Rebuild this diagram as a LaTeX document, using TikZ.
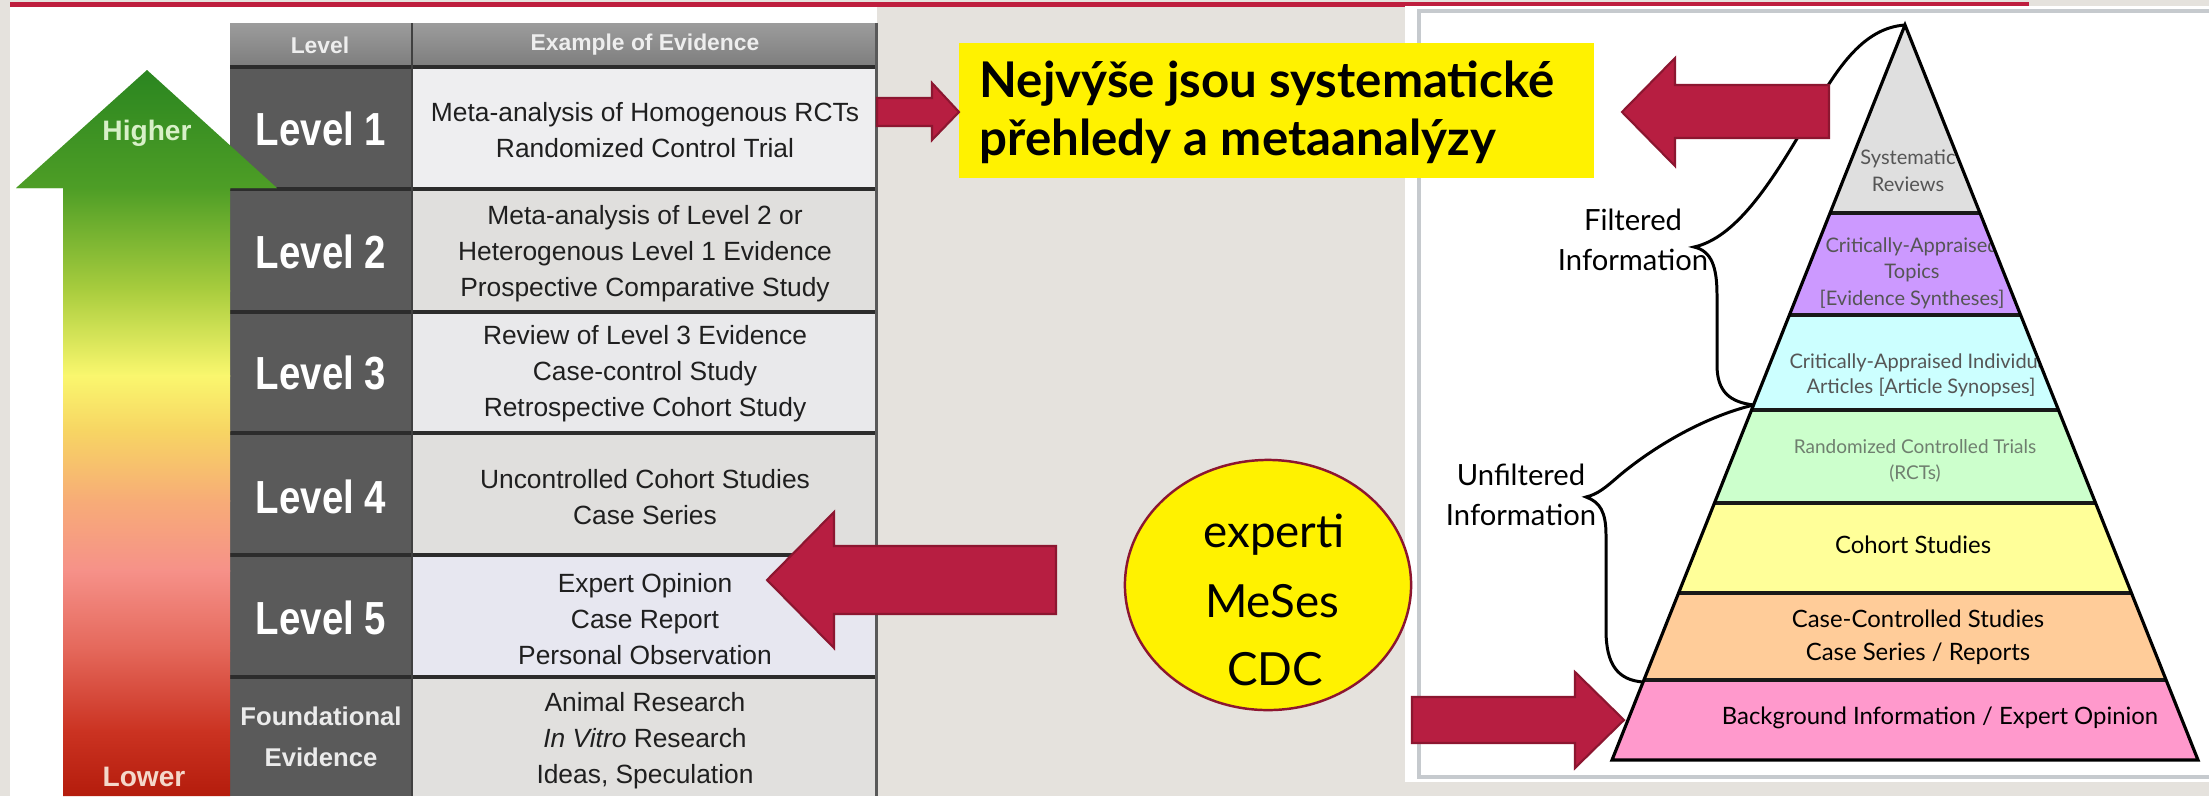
\documentclass[tikz,border=0pt]{standalone}
\usepackage{fontspec}
\setmainfont{Liberation Sans}
\newfontfamily\lato{Lato}
\usetikzlibrary{shapes.geometric}

\definecolor{bgbeige}{HTML}{E5E2DD}
\definecolor{redline}{HTML}{BE1E3E}
\definecolor{crim}{HTML}{B71E41}
\definecolor{crimdark}{HTML}{8C1630}
\definecolor{lvlgrey}{HTML}{5A5A5A}
\definecolor{sepdark}{HTML}{2C2C2C}
\definecolor{hdtop}{HTML}{9C9C9C}
\definecolor{hdbot}{HTML}{7D7D7D}
\definecolor{hdtextc}{HTML}{EEEEEE}
\definecolor{cellA}{HTML}{EEEEF0}
\definecolor{cellB}{HTML}{E0DFDD}
\definecolor{panelborder}{HTML}{C6CACE}
\definecolor{pgrey}{HTML}{DFDFDF}
\definecolor{ppurple}{HTML}{CC99FF}
\definecolor{pcyan}{HTML}{CCFFFF}
\definecolor{pgreen}{HTML}{CCFFCC}
\definecolor{pyellow}{HTML}{FFFF99}
\definecolor{porange}{HTML}{FFCC99}
\definecolor{ppink}{HTML}{FF99CC}
\definecolor{ptextgrey}{HTML}{555555}
\definecolor{prctgrey}{HTML}{6F7F6F}
\definecolor{hightext}{HTML}{D8F0C8}
\definecolor{lowtext}{HTML}{F4D8CA}
\definecolor{gtip}{HTML}{2A8520}
\definecolor{ga}{HTML}{4E9E26}
\definecolor{gb}{HTML}{A9CD3E}
\definecolor{gc}{HTML}{FAF76E}
\definecolor{gd}{HTML}{F7D563}
\definecolor{ge}{HTML}{F7AC77}
\definecolor{gf}{HTML}{F69189}
\definecolor{gg}{HTML}{E4675A}
\definecolor{gh}{HTML}{CB3322}
\definecolor{gi}{HTML}{B41C0C}

\begin{document}
\begin{tikzpicture}[x=0.01cm,y=-0.01cm,
  evtext/.style={align=center,font=\fontsize{7.5}{10.2}\selectfont,text=black!88,inner sep=0pt},
  lvltext/.style={align=center,font=\fontsize{12}{14}\selectfont\bfseries,text=white,inner sep=0pt},
  fndtext/.style={align=center,font=\fontsize{7.3}{11.7}\selectfont\bfseries,text=white!92!black,inner sep=0pt},
  hdtext/.style={font=\fontsize{6.5}{8}\selectfont\bfseries,text=hdtextc,inner sep=0pt},
  blockarrow/.style={fill=crim,draw=crimdark,line width=0.6pt,line join=miter},
  sepline/.style={draw=sepdark,line width=0.9pt},
  pband/.style={line width=1.2pt,draw=black!90},
  ptext/.style={align=center,inner sep=0pt,font=\lato\fontsize{6.8}{9.4}\selectfont,text=black},
  psmall/.style={align=center,inner sep=0pt,font=\lato\fontsize{5.7}{7.6}\selectfont,text=ptextgrey},
  brace/.style={draw=black,line width=0.85pt},
  infotext/.style={align=center,inner sep=0pt,font=\lato\fontsize{8.3}{11.4}\selectfont},
  ybtext/.style={anchor=base west,inner sep=0pt,font=\lato\bfseries\fontsize{14}{16}\selectfont},
  elltext/.style={anchor=base,inner sep=0pt,font=\lato\fontsize{13}{16}\selectfont},
  arrowlabel/.style={inner sep=0pt,font=\fontsize{8}{10}\selectfont\bfseries},
]
\useasboundingbox (0,0) rectangle (2209,796);
\fill[bgbeige] (0,0) rectangle (2209,796);
% top red line
\fill[redline] (10,2) rectangle (2029,7);
% left white panel
\fill[white] (10,7) rectangle (877,796);

% ---------- table ----------
\shade[top color=hdtop,bottom color=hdbot] (230,23) rectangle (877,67);
\fill[lvlgrey] (230,67) rectangle (412,796);
\fill[cellA] (412,67) rectangle (877,189);
\fill[cellB] (412,189) rectangle (877,312);
\fill[cellA!98!black] (412,312) rectangle (877,433);
\fill[cellB] (412,433) rectangle (877,555);
\fill[cellA!97!blue] (412,555) rectangle (877,677);
\fill[cellB!98!white] (412,677) rectangle (877,796);
\foreach \yy in {67,189,312,433,555,677}
  \draw[sepline] (230,\yy) -- (877,\yy);
\draw[draw=black!75,line width=0.6pt] (412,23) -- (412,796);
\draw[draw=black!65,line width=0.85pt] (876,23) -- (876,796);

\node[hdtext] (hlev) at (320,45) {Level};
\node[hdtext] (hex) at (645,45) {Example of Evidence};

% ---------- green arrow ----------
\begin{scope}
\clip (147,70) -- (277,188) -- (230,188) -- (230,796) -- (63,796) -- (63,188) -- (16,188) -- cycle;
\shade[top color=gtip,bottom color=ga] (0,68) rectangle (280,189);
\shade[top color=ga,bottom color=gb] (0,188) rectangle (280,291);
\shade[top color=gb,bottom color=gc] (0,290) rectangle (280,376);
\shade[top color=gc,bottom color=gd] (0,375) rectangle (280,431);
\shade[top color=gd,bottom color=ge] (0,430) rectangle (280,501);
\shade[top color=ge,bottom color=gf] (0,500) rectangle (280,571);
\shade[top color=gf,bottom color=gg] (0,570) rectangle (280,651);
\shade[top color=gg,bottom color=gh] (0,650) rectangle (280,731);
\shade[top color=gh,bottom color=gi] (0,730) rectangle (280,797);
\end{scope}
\node[arrowlabel,text=hightext] (higher) at (147,133) {Higher};
\node[arrowlabel,text=lowtext] (lower) at (144,777) {Lower};

% level labels
\node[lvltext] (l1) at (321,129) {\scalebox{0.91}[1.1]{Level 1}};
\node[lvltext] (l2) at (321,252) {\scalebox{0.91}[1.1]{Level 2}};
\node[lvltext] (l3) at (321,373) {\scalebox{0.91}[1.1]{Level 3}};
\node[lvltext] (l4) at (321,497) {\scalebox{0.91}[1.1]{Level 4}};
\node[lvltext] (l5) at (321,618) {\scalebox{0.91}[1.1]{Level 5}};
\node[fndtext] (lf) at (321,737) {Foundational\\Evidence};

% evidence texts
\node[evtext] (e1) at (645,130) {Meta-analysis of Homogenous RCTs\\Randomized Control Trial};
\node[evtext] (e2) at (645,254) {Meta-analysis of Level 2 or\\Heterogenous Level 1 Evidence\\Prospective Comparative Study};
\node[evtext] (e3) at (645,374) {Review of Level 3 Evidence\\Case-control Study\\Retrospective Cohort Study};
\node[evtext] (e4) at (645,497) {Uncontrolled Cohort Studies\\Case Series};
\node[evtext] (e5) at (645,619) {Expert Opinion\\Case Report\\Personal Observation};
\node[evtext] (e6) at (645,741) {Animal Research\\\textit{In Vitro} Research\\Ideas, Speculation};

% ---------- right panel ----------
\fill[white] (1405,6) rectangle (2209,782);
\draw[draw=panelborder,line width=1pt] (1419,11) rectangle (2230,777);

% ---------- pyramid ----------
\coordinate (apex) at (1905,25);
\coordinate (bl) at (1612,760);
\coordinate (br) at (2198,760);
\coordinate (p405) at (1753.5,405);
\coordinate (p682) at (1643,682);
\begin{scope}
\clip (apex) -- (bl) -- (br) -- cycle;
\fill[pgrey] (1600,0) rectangle (2210,213);
\fill[ppurple] (1600,213) rectangle (2210,315);
\fill[pcyan] (1600,315) rectangle (2210,410);
\fill[pgreen] (1600,410) rectangle (2210,503);
\fill[pyellow] (1600,503) rectangle (2210,593);
\fill[porange] (1600,593) rectangle (2210,680);
\fill[ppink] (1600,680) rectangle (2210,762);
\node[psmall] (tsr) at (1908,171) {Systematic\\Reviews};
\node[psmall,font=\lato\fontsize{5.7}{7.5}\selectfont] (tcat) at (1912,273) {Critically-Appraised\\Topics\\{[Evidence Syntheses]}};
\node[psmall,font=\lato\fontsize{5.7}{7.2}\selectfont] (tcai) at (1921,375) {Critically-Appraised Individual\\Articles {[Article Synopses]}};
\node[psmall,text=prctgrey,font=\lato\fontsize{5.4}{7.6}\selectfont] (trct) at (1915,461) {Randomized Controlled Trials\\(RCTs)};
\node[ptext] (tcoh) at (1913,545) {Cohort Studies};
\node[ptext] (tcc) at (1918,637) {Case-Controlled Studies\\Case Series / Reports};
\node[ptext] (tbg) at (1940,718) {Background Information / Expert Opinion};
\foreach \yy in {213,315,410,503,593,680}
  \draw[pband] (1600,\yy) -- (2210,\yy);
\end{scope}
\draw[line width=0.9pt,line join=miter] (apex) -- (bl) -- (br) -- cycle;

% braces
\draw[brace] (apex) .. controls (1862,28) and (1835,70) .. (1805,125)
  .. controls (1770,185) and (1735,238) .. (1694,247)
  .. controls (1712,251) and (1717,268) .. (1717,295) -- (1717,365)
  .. controls (1717,392) and (1730,402) .. (p405);
\draw[brace] (p405) .. controls (1700,418) and (1650,450) .. (1620,475)
  .. controls (1605,488) and (1598,494) .. (1586,497)
  .. controls (1600,502) and (1606,512) .. (1606,535) -- (1606,630)
  .. controls (1606,665) and (1618,680) .. (p682);
\node[infotext] (filt) at (1633,240) {Filtered\\Information};
\node[infotext] (unfilt) at (1521,495) {Unfiltered\\Information};

% ---------- yellow box ----------
\node[fill=yellow,minimum width=6.35cm,minimum height=1.35cm,anchor=north west,inner sep=0pt] (ybox) at (958,42) {};
\node[ybtext] (yt1) at (979,97) {Nejvýše jsou systematické};
\node[ybtext] (yt2) at (979,155) {přehledy a metaanalýzy};

% ---------- ellipse ----------
\node[ellipse,draw=crimdark,line width=0.7pt,fill=yellow,minimum width=2.86cm,minimum height=2.5cm,inner sep=0pt] (ell) at (1268,585) {};
\node[elltext] (ex1) at (1274,547) {experti};
\node[elltext] (ex2) at (1272,617) {MeSes};
\node[elltext] (ex3) at (1275,685) {CDC};

% ---------- block arrows ----------
\draw[blockarrow] (877,98) -- (932,98) -- (932,83) -- (959,112) -- (932,140) -- (932,126) -- (877,126) -- cycle;
\draw[blockarrow] (1056,546) -- (834,546) -- (834,512) -- (767,580) -- (834,648) -- (834,614) -- (1056,614) -- cycle;
\draw[blockarrow] (1829,85) -- (1675,85) -- (1675,58) -- (1622,112) -- (1675,166) -- (1675,138) -- (1829,138) -- cycle;
\draw[blockarrow] (1412,697) -- (1575,697) -- (1575,672) -- (1624,720) -- (1575,768) -- (1575,743) -- (1412,743) -- cycle;
\end{tikzpicture}
\end{document}
